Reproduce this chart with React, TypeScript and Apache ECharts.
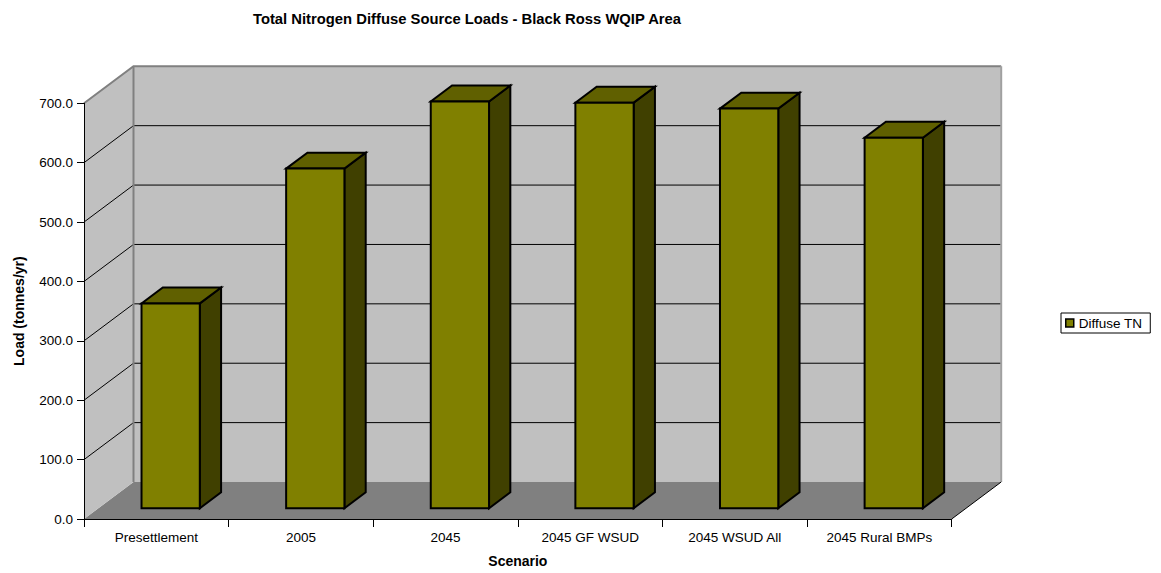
import React, { useEffect, useRef } from "react";
import * as echarts from "echarts";

// Scenario loads (tonnes/yr)
const scenarios = [
  "Presettlement",
  "2005",
  "2045",
  "2045 GF WSUD",
  "2045 WSUD All",
  "2045 Rural BMPs",
];
const diffuseTN = [345, 572, 685, 683, 673, 624];
const loadTicks = [0, 100, 200, 300, 400, 500, 600, 700];

const FONT = "Liberation Sans, Arial, sans-serif";
// pixel offset from front plane to back wall
const DX = 49.5;
const DY = -37;
// depth position of bar front/back faces (fraction of full depth)
const BAR_FRONT = 0.29;
const BAR_BACK = 0.72;
const BAR_WIDTH = 0.403;

export default function App() {
  const ref = useRef<HTMLDivElement>(null);

  useEffect(() => {
    if (!ref.current) return;
    const chart = echarts.init(ref.current, undefined, { renderer: "svg" });

    const walls = (params: any, api: any) => {
      const cs = params.coordSys;
      const x0 = cs.x;
      const x1 = cs.x + cs.width;
      const yTop = cs.y;
      const yBase = cs.y + cs.height;
      const children: any[] = [];
      children.push({
        type: "polygon",
        shape: { points: [[x0, yBase], [x1, yBase], [x1 + DX, yBase + DY], [x0 + DX, yBase + DY]] },
        style: { fill: "#808080" },
      });
      children.push({
        type: "polygon",
        shape: { points: [[x0, yBase], [x0, yTop], [x0 + DX, yTop + DY], [x0 + DX, yBase + DY]] },
        style: { fill: "#c0c0c0" },
      });
      children.push({
        type: "rect",
        shape: { x: x0 + DX, y: yTop + DY, width: cs.width, height: cs.height },
        style: { fill: "#c0c0c0" },
      });
      loadTicks.slice(1, -1).forEach((v) => {
        const y = api.coord([0, v])[1];
        children.push({
          type: "polyline",
          shape: { points: [[x0, y], [x0 + DX, y + DY], [x1 + DX, y + DY]] },
          style: { stroke: "#000", lineWidth: 1, fill: null },
        });
      });
      children.push({
        type: "polyline",
        shape: { points: [[x0, yTop], [x0 + DX, yTop + DY], [x1 + DX, yTop + DY]] },
        style: { stroke: "#808080", lineWidth: 2, fill: null },
      });
      children.push({
        type: "line",
        shape: { x1: x0 + DX, y1: yTop + DY, x2: x0 + DX, y2: yBase + DY },
        style: { stroke: "#808080", lineWidth: 2 },
      });
      children.push({
        type: "line",
        shape: { x1: x1 + DX, y1: yTop + DY, x2: x1 + DX, y2: yBase + DY },
        style: { stroke: "#a0a0a0", lineWidth: 2 },
      });
      children.push({
        type: "line",
        shape: { x1: x1, y1: yBase, x2: x1 + DX, y2: yBase + DY },
        style: { stroke: "#000", lineWidth: 1 },
      });
      return { type: "group", children };
    };

    const bar3d = (params: any, api: any) => {
      const idx = api.value(0);
      const val = api.value(1);
      const p0 = api.coord([idx, 0]);
      const p1 = api.coord([idx, val]);
      const band = api.size([1, 0])[0];
      const w = band * BAR_WIDTH;
      const cx = p0[0] + BAR_FRONT * DX;
      const left = cx - w / 2;
      const right = cx + w / 2;
      const bottom = p0[1] + BAR_FRONT * DY;
      const top = p1[1] + BAR_FRONT * DY;
      const ddx = (BAR_BACK - BAR_FRONT) * DX;
      const ddy = (BAR_BACK - BAR_FRONT) * DY;
      const edge = { stroke: "#000", lineWidth: 2, lineJoin: "miter" };
      return {
        type: "group",
        children: [
          {
            type: "polygon",
            shape: { points: [[right, top], [right + ddx, top + ddy], [right + ddx, bottom + ddy], [right, bottom]] },
            style: { fill: "#404000", ...edge },
          },
          {
            type: "polygon",
            shape: { points: [[left, top], [right, top], [right + ddx, top + ddy], [left + ddx, top + ddy]] },
            style: { fill: "#606000", ...edge },
          },
          {
            type: "rect",
            shape: { x: left, y: top, width: w, height: bottom - top },
            style: { fill: "#808000", ...edge },
          },
        ],
      };
    };

    chart.setOption({
      animation: false,
      backgroundColor: "#ffffff",
      title: {
        text: "Total Nitrogen Diffuse Source Loads - Black Ross WQIP Area",
        left: 462,
        top: 6,
        textAlign: "center",
        textStyle: { fontFamily: FONT, fontSize: 14.8, fontWeight: "bold", color: "#000" },
      },
      legend: {
        left: 1061,
        top: 313,
        orient: "vertical",
        data: [
          {
            name: "Diffuse TN",
            icon: "rect",
            itemStyle: { color: "#808000", borderColor: "#000", borderWidth: 1.5 },
          },
        ],
        itemWidth: 8,
        itemHeight: 8,
        borderColor: "#000",
        borderWidth: 1,
        padding: [3, 8, 3, 4],
        textStyle: { fontFamily: FONT, fontSize: 13.5, color: "#000" },
      },
      grid: { left: 84, top: 103.3, right: 209.3, bottom: 52.3 },
      xAxis: {
        type: "category",
        data: scenarios,
        z: 5,
        boundaryGap: true,
        name: "Scenario",
        nameLocation: "middle",
        nameGap: 35,
        nameTextStyle: { fontFamily: FONT, fontSize: 14, fontWeight: "bold", color: "#000" },
        axisLine: { lineStyle: { color: "#000", width: 1 } },
        axisTick: { show: true, length: 8, lineStyle: { color: "#000" } },
        axisLabel: { fontFamily: FONT, fontSize: 13.5, color: "#000", margin: 11 },
        splitLine: { show: false },
      },
      yAxis: {
        type: "value",
        min: 0,
        max: 700,
        interval: 100,
        z: 5,
        name: "Load (tonnes/yr)",
        nameLocation: "middle",
        nameGap: 58,
        nameTextStyle: { fontFamily: FONT, fontSize: 14, fontWeight: "bold", color: "#000" },
        axisLine: { show: true, lineStyle: { color: "#000", width: 1 } },
        axisTick: { show: true, length: 7, lineStyle: { color: "#000" } },
        axisLabel: {
          fontFamily: FONT,
          fontSize: 13.5,
          color: "#000",
          margin: 11,
          formatter: (v: number) => v.toFixed(1),
        },
        splitLine: { show: false },
      },
      series: [
        {
          type: "custom",
          silent: true,
          data: [[0, 0]],
          renderItem: walls,
          z: 1,
        },
        {
          type: "custom",
          name: "Diffuse TN",
          data: scenarios.map((_, i) => [i, diffuseTN[i]]),
          encode: { x: 0, y: 1 },
          renderItem: bar3d,
          itemStyle: { color: "#808000", borderColor: "#000" },
          z: 3,
        },
      ],
    });

    return () => chart.dispose();
  }, []);

  return (
    <div
      ref={ref}
      style={{ position: "fixed", left: 0, top: 0, width: 1161, height: 573, background: "#fff" }}
    />
  );
}
